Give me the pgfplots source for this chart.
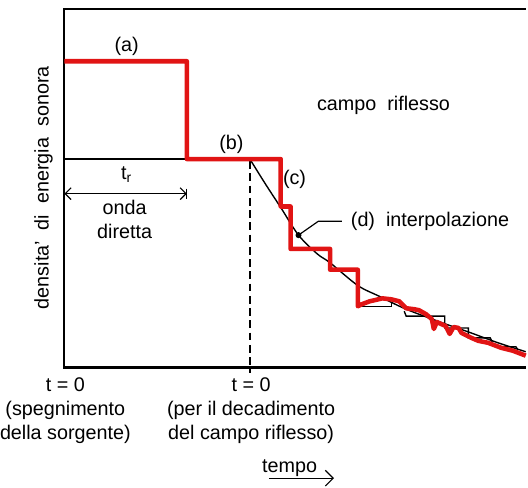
\documentclass[border=0pt]{standalone}
\usepackage{fontspec}
\setmainfont{Liberation Sans}
\usepackage{pgfplots}
\pgfplotsset{compat=1.18}
\usetikzlibrary{arrows.meta}
\definecolor{rosso}{RGB}{225,20,20}

\begin{document}
\begin{tikzpicture}
\begin{axis}[width=264pt, height=246.5pt, scale only axis, hide axis,
  xmin=0, xmax=528, ymin=0, ymax=493, y dir=reverse, clip=false,
  every node/.style={font=\fontsize{7.7}{10}\selectfont}]
\path (axis cs:0,0) rectangle (axis cs:528,493);
% frame
\draw[line width=1.1pt] (axis cs:528,9) -- (axis cs:61,9) -- (axis cs:61,372) -- (axis cs:528,372);
% level of the reflected field
\draw[line width=0.7pt] (axis cs:61,161) -- (axis cs:185,161);
\draw[line width=0.8pt, dash pattern=on 4pt off 2.2pt] (axis cs:249,163) -- (axis cs:249,378);
% smooth decay (d)
\addplot[black, line width=0.7pt, smooth] coordinates {
  (250,163) (265,187) (280,210) (298,238) (317,257) (330,266)
  (358,289) (380,300) (407,313) (447,328) (470,336) (500,347) (528,356)
};
% staircase of the tail
\addplot[black, line width=0.7pt] coordinates {
  (358,310) (392,310) (392,307)
};
\addplot[black, line width=0.7pt] coordinates {
  (405,315) (407,320) (446,320) (446,332) (470,332) (470,342) (492,342) (494,346)
};
\addplot[black, line width=0.7pt] coordinates {
  (505,351) (518,351) (520,354)
};
% red: direct + reflected
\addplot[rosso, line width=2.3pt, line join=round] coordinates {
  (61,62) (185,62) (185,161) (280,161) (280,209) (290,209) (290,252)
  (330,252) (330,273) (358,273) (358,310)
  (362,308) (370,305) (383,302) (392,303) (400,305) (407,312) (415,313)
  (420,314) (427,318) (433,323) (435,333) (438,326) (447,330) (451,338)
  (455,331) (460,332) (463,337) (473,342) (480,345) (490,347) (503,352)
  (515,355) (528,360)
};
\addplot[black, only marks, mark=*, mark size=1.3pt] coordinates {(298,238)};
\draw[line width=0.6pt] (axis cs:298,238) -- (axis cs:318,224) -- (axis cs:342,224);
% t_r arrow
\draw[line width=0.6pt, {Straight Barb[length=3pt]}-{Straight Barb[length=3pt]}] (axis cs:61,196) -- (axis cs:185,196);
\draw[line width=0.6pt] (axis cs:185,191) -- (axis cs:185,201);
% labels
\node at (axis cs:124,47) {(a)};
\node at (axis cs:230,146) {(b)};
\node at (axis cs:294,182) {(c)};
\node[anchor=west] at (axis cs:344,224) {(d)\ \ interpolazione};
\node at (axis cs:384,107) {campo\ \ riflesso};
\node at (axis cs:124,177) {t\textsubscript{r}};
\node[align=center] at (axis cs:122,222) {onda\\diretta};
\node[rotate=90] at (axis cs:40,190) {densita'\ \ di\ \ energia\ \ sonora};
\node[align=center, anchor=north, inner sep=0pt] at (axis cs:62,382) {t\ =\ 0\\(spegnimento\\della\ sorgente)};
\node[align=center, anchor=north, inner sep=0pt] at (axis cs:250,382) {t\ =\ 0\\(per il decadimento\\del campo riflesso)};
\node at (axis cs:289,474) {tempo};
\draw[line width=0.6pt, -{Straight Barb[length=4pt]}] (axis cs:268,484) -- (axis cs:334,484);
\end{axis}
\end{tikzpicture}
\end{document}
